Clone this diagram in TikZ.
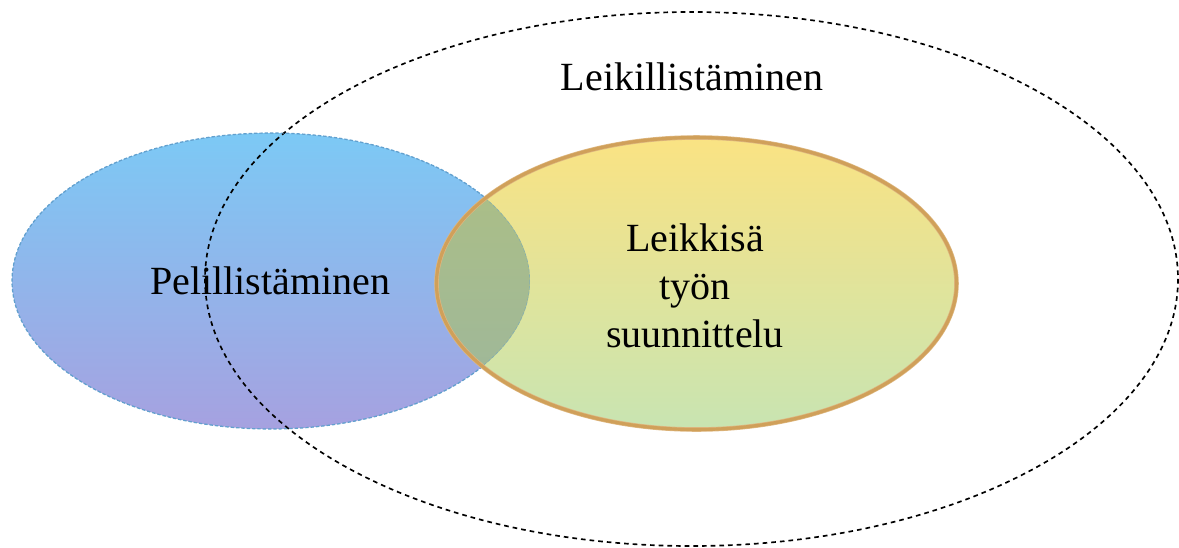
\documentclass[tikz,border=0pt]{standalone}
\usepackage{fontspec}
\setmainfont{Liberation Serif}
\usepackage{tikz}

\definecolor{bluetop}{RGB}{124,201,245}
\definecolor{bluebot}{RGB}{166,161,224}
\definecolor{blueline}{RGB}{98,160,206}
\definecolor{yeltop}{RGB}{250,227,131}
\definecolor{yelbot}{RGB}{200,228,178}
\definecolor{yelline}{RGB}{208,160,90}
\definecolor{yelhalo}{RGB}{222,184,130}
\definecolor{mixtop}{RGB}{174,192,130}
\definecolor{mixbot}{RGB}{156,182,158}

\begin{document}
\begin{tikzpicture}[x=0.75pt, y=-0.75pt,
    label/.style={font=\fontsize{30}{36}\selectfont, text=black, inner sep=0pt, align=center},
    outerline/.style={draw=black, line width=1.25pt, dash pattern=on 3.5pt off 3pt},
    bluefill/.style={top color=bluetop, bottom color=bluebot},
    blueedge/.style={draw=blueline, line width=0.9pt, dash pattern=on 2.5pt off 1.5pt},
    yelfill/.style={top color=yeltop, bottom color=yelbot},
    yeledge/.style={draw=yelline, line width=2.4pt}]
  \useasboundingbox (0,0) rectangle (1179,547);

  % left ellipse
  \shade[bluefill] (271,281) ellipse [x radius=259, y radius=148];
  \draw[blueedge] (271,281) ellipse [x radius=259, y radius=148];

  % big dashed ellipse
  \draw[outerline] (691.5,279) ellipse [x radius=486.5, y radius=267];

  % right ellipse
  \shade[yelfill] (696.5,283.5) ellipse [x radius=260, y radius=146];
  \begin{scope}
    \clip (271,281) ellipse [x radius=259, y radius=148];
    \shade[top color=mixtop, bottom color=mixbot] (696.5,283.5) ellipse [x radius=260, y radius=146];
    \draw[blueedge, draw opacity=0.5] (271,281) ellipse [x radius=259, y radius=148];
  \end{scope}
  \draw[draw=yelhalo, line width=3.4pt] (696.5,283.5) ellipse [x radius=260, y radius=146];
  \draw[yeledge] (696.5,283.5) ellipse [x radius=260, y radius=146];

  % texts
  \node[label] (leik) at (692,77) {Leikillistäminen};
  \node[label] (peli) at (270,281) {Pelillistäminen};
  \node[label] (suun) at (695,286) {Leikkisä\\työn\\suunnittelu};
\end{tikzpicture}
\end{document}
